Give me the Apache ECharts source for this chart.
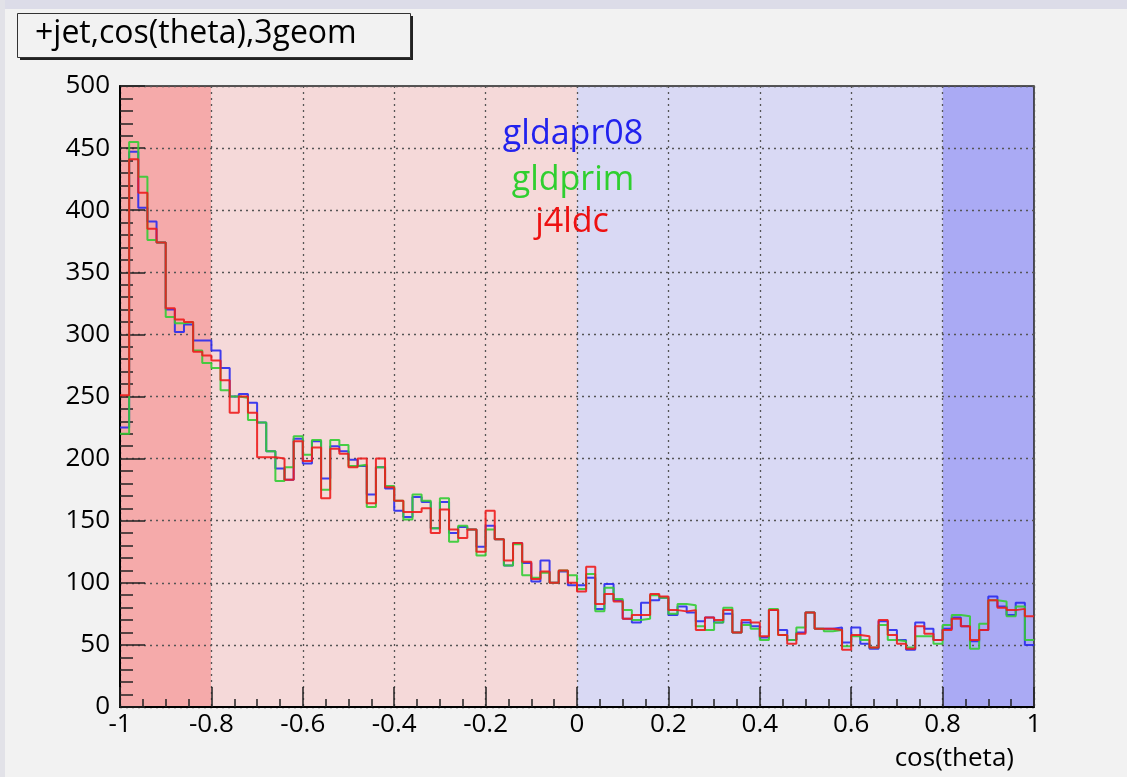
<!DOCTYPE html>
<html><head><meta charset="utf-8">
<script src="https://cdn.jsdelivr.net/npm/echarts@6/dist/echarts.min.js"></script>
<style>html,body{margin:0;padding:0;background:#f2f2f2;}#chart{width:1127px;height:777px;}</style>
</head><body><div id="chart"></div>
<script>
// ---- data ----
const title = '+jet,cos(theta),3geom';
const xAxisTitle = 'cos(theta)';
const seriesNames = ['gldapr08', 'gldprim', 'j4ldc'];
const xMin = -1, xMax = 1, nBins = 100;
const yMin = 0, yMax = 500, yStep = 50, xStep = 0.2;
const bandEdges = [-1, -0.8, 0, 0.8, 1];

const gldapr08 = [225,447,402,391,374,320,302,308,295,295,287,273,250,252,245,229,206,192,183,216,
  196,214,184,210,206,199,194,171,193,176,158,153,169,165,144,165,140,145,143,129,
  146,135,114,132,116,101,118,100,109,98,98,104,79,99,86,71,68,84,86,88,
  74,81,76,69,72,68,75,60,68,65,56,78,62,54,60,76,63,63,64,52,
  64,51,47,69,62,54,46,68,63,54,63,72,65,53,62,89,81,74,84,50];
const gldprim = [220,455,427,376,374,314,309,310,287,277,273,255,250,249,231,229,206,182,193,218,
  203,215,175,215,211,194,195,161,193,178,166,151,171,166,144,168,133,146,143,122,
  143,135,114,131,106,104,108,100,110,106,95,107,77,96,87,78,70,71,90,88,
  75,83,82,65,62,68,80,60,66,63,54,79,58,54,64,76,63,61,62,49,
  57,54,48,66,54,53,48,57,57,51,66,74,73,47,67,86,85,73,81,54];
const j4ldc = [251,441,414,385,374,321,312,310,286,283,279,263,237,250,237,201,201,200,183,214,
  198,209,168,208,204,193,200,164,200,177,166,157,157,160,140,159,143,136,143,125,
  158,135,118,132,117,103,109,100,110,100,93,113,83,91,85,71,74,74,91,89,
  78,77,78,62,72,70,78,60,70,68,57,78,58,51,59,76,63,63,62,46,
  58,57,48,70,58,51,47,65,59,54,62,71,65,54,62,86,80,78,79,73];

// ---- styles ----
const FONT = '"Open Sans", "DejaVu Sans", sans-serif';
const lineColors = ['#2a2aee', '#33cc33', '#ee1c1c'];
const textColors = ['#2222ee', '#2fcf2f', '#ee1111'];
const bandColors = ['#f5aaaa', '#f5d9d9', '#d9d9f4', '#aaaaf4'];

const binWidth = (xMax - xMin) / nBins;
function histPoints(vals) {
  const pts = vals.map((v, i) => [+(xMin + i * binWidth).toFixed(4), v]);
  pts.push([xMax, vals[vals.length - 1]]);
  return pts;
}
const allSeries = [gldapr08, gldprim, j4ldc];

const bandData = [];
for (let i = 0; i < bandEdges.length - 1; i++) {
  bandData.push([{ xAxis: bandEdges[i], itemStyle: { color: bandColors[i] } }, { xAxis: bandEdges[i + 1] }]);
}

const chart = echarts.init(document.getElementById('chart'), null, { renderer: 'canvas' });
const series = allSeries.map((vals, k) => ({
  name: seriesNames[k],
  type: 'line',
  step: 'end',
  data: histPoints(vals),
  showSymbol: false,
  symbol: 'none',
  z: 3 + k,
  clip: true,
  lineStyle: { color: lineColors[k], width: 2, opacity: 0.9 },
  itemStyle: { color: lineColors[k] },
  silent: true
}));
series[0].markArea = { silent: true, z: 1, data: bandData, itemStyle: { opacity: 1 } };

chart.setOption({
  animation: false,
  backgroundColor: '#f2f2f2',
  textStyle: { fontFamily: FONT },
  grid: { left: 120, top: 86, width: 914, height: 621, show: true, z: 2,
          borderColor: '#222', borderWidth: 1.5, backgroundColor: 'transparent' },
  xAxis: {
    type: 'value', min: xMin, max: xMax, interval: xStep, z: 2,
    axisLine: { show: true, onZero: false, lineStyle: { color: '#000', width: 2 } },
    axisTick: { show: true, inside: true, length: 20, lineStyle: { color: '#222', width: 1.5 } },
    minorTick: { show: true, splitNumber: 4, length: 8, lineStyle: { color: '#222', width: 1.5 } },
    splitLine: { show: true, lineStyle: { color: '#555', width: 1.3, type: [2, 4] } },
    axisLabel: { margin: 5, fontSize: 26, color: '#000', fontFamily: FONT,
      formatter: v => String(parseFloat(v.toFixed(2))) },
    name: xAxisTitle, nameLocation: 'end', nameGap: 0,
    nameTextStyle: { fontSize: 26, color: '#000', fontFamily: FONT, align: 'right', verticalAlign: 'top', padding: [39, 20, 0, 0] }
  },
  yAxis: {
    type: 'value', min: yMin, max: yMax, interval: yStep, z: 2,
    axisLine: { show: true, onZero: false, lineStyle: { color: '#000', width: 2 } },
    axisTick: { show: true, inside: true, length: 25, lineStyle: { color: '#222', width: 1.5 } },
    minorTick: { show: true, splitNumber: 5, length: 13, lineStyle: { color: '#222', width: 1.5 } },
    splitLine: { show: true, lineStyle: { color: '#555', width: 1.3, type: [2, 4] } },
    axisLabel: { margin: 10, fontSize: 26, color: '#000', fontFamily: FONT }
  },
  graphic: [
    { type: 'rect', left: 0, top: 0, z: 10, shape: { width: 1127, height: 9 }, style: { fill: '#dcdce8' } },
    { type: 'rect', left: 0, top: 0, z: 10, shape: { width: 5, height: 777 }, style: { fill: '#e2e2e8' } },
    { type: 'rect', left: 20, top: 16, z: 10, shape: { width: 393, height: 44 }, style: { fill: '#222' } },
    { type: 'rect', left: 17, top: 13, z: 11, shape: { width: 393, height: 44 }, style: { fill: '#f2f2f2', stroke: '#333', lineWidth: 1 } },
    { type: 'text', left: 35, top: 18, z: 12, style: { text: title, font: '32px ' + FONT, fill: '#000' } },
    { type: 'text', x: 573, y: 134, z: 12, style: { text: seriesNames[0], font: '34px ' + FONT, fill: textColors[0], align: 'center', verticalAlign: 'middle' } },
    { type: 'text', x: 573, y: 180, z: 12, style: { text: seriesNames[1], font: '34px ' + FONT, fill: textColors[1], align: 'center', verticalAlign: 'middle' } },
    { type: 'text', x: 572, y: 222, z: 12, style: { text: seriesNames[2], font: '34px ' + FONT, fill: textColors[2], align: 'center', verticalAlign: 'middle' } }
  ],
  series: series
});
</script></body></html>
